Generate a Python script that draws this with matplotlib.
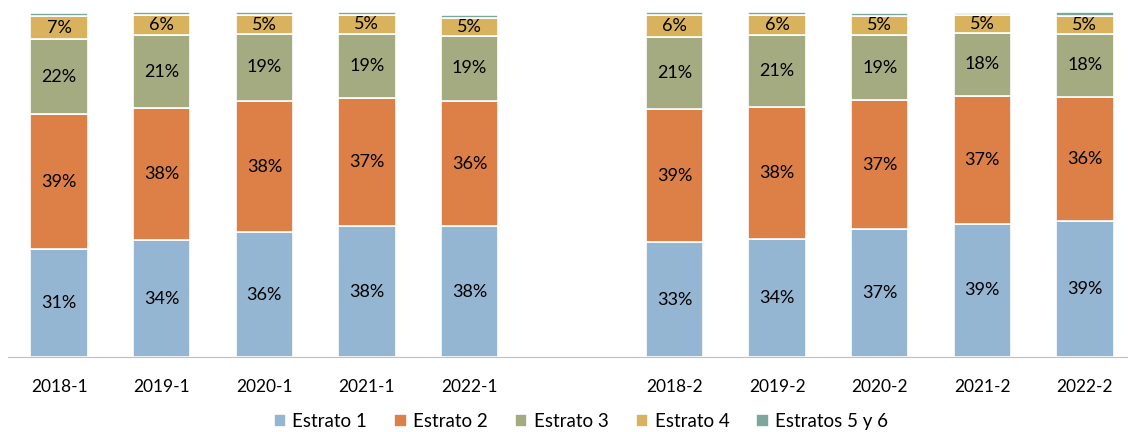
import matplotlib
matplotlib.use('Agg')
import matplotlib.pyplot as plt
import numpy as np

plt.rcParams['font.family'] = ['Lato', 'DejaVu Sans']

# Periods (empty slot between semesters)
periods = ['2018-1', '2019-1', '2020-1', '2021-1', '2022-1',
           '2018-2', '2019-2', '2020-2', '2021-2', '2022-2']

# Shares per stratum (%)
estrato_1 = [31.2, 33.8, 36.1, 37.9, 37.9, 33.2, 34.1, 37.0, 38.6, 39.4]
estrato_2 = [39.3, 38.4, 38.2, 37.3, 36.4, 38.7, 38.4, 37.4, 37.2, 36.0]
estrato_3 = [21.7, 21.1, 19.4, 18.6, 18.8, 20.8, 20.8, 19.1, 18.3, 18.4]
estrato_4 = [6.6, 5.8, 5.4, 5.4, 5.2, 6.4, 5.8, 5.4, 5.2, 5.2]
estratos_5_6 = [1.0, 1.1, 0.9, 0.8, 0.9, 0.9, 0.9, 0.9, 0.6, 1.0]

series = [
    ('Estrato 1', estrato_1, '#94B6D2'),
    ('Estrato 2', estrato_2, '#DD8047'),
    ('Estrato 3', estrato_3, '#A5AB81'),
    ('Estrato 4', estrato_4, '#D8B25C'),
    ('Estratos 5 y 6', estratos_5_6, '#7BA79D'),
]

x = np.array([0, 1, 2, 3, 4, 6, 7, 8, 9, 10])

fig = plt.figure(figsize=(11.28, 4.32), dpi=100)
ax = fig.add_axes([0.007, 0.174, 0.993, 0.80])

bottom = np.zeros(len(periods))
for name, vals, color in series:
    vals = np.array(vals)
    ax.bar(x, vals, 0.56, bottom=bottom, color=color, edgecolor='white',
           linewidth=1.2, label=name)
    if name != 'Estratos 5 y 6':
        for xi, b, v in zip(x, bottom, vals):
            ax.text(xi, b + v / 2, f'{round(v):.0f}%', ha='center', va='center',
                    fontsize=13, color='black')
    bottom += vals

ax.set_xlim(-0.5, 10.42)
ax.set_ylim(0, 100.3)
ax.set_xticks(x)
ax.set_xticklabels(periods, fontsize=12.5)
ax.tick_params(axis='x', length=0, pad=16)
ax.set_yticks([])
for s in ['top', 'right', 'left']:
    ax.spines[s].set_visible(False)
ax.spines['bottom'].set_color('#BFBFBF')

fig.legend(loc='lower center', ncol=5, frameon=False, fontsize=13.5,
           bbox_to_anchor=(0.515, -0.035), handlelength=0.65, handleheight=0.65,
           handletextpad=0.35, columnspacing=1.45)

plt.savefig('out.png', dpi=100)
plt.close()
